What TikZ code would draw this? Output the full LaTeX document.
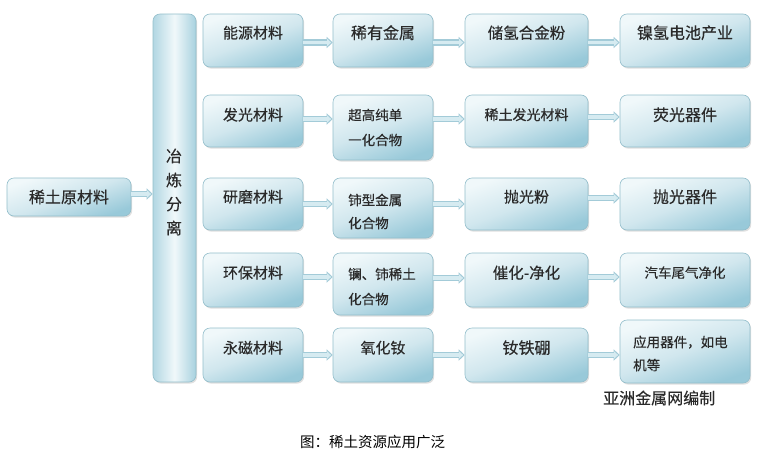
\documentclass[tikz,border=0pt]{standalone}
\usepackage{fontspec}
\newfontfamily\cjk[FakeBold=0.35]{Noto Sans CJK SC}
\newfontfamily\cjkplain{Noto Sans CJK SC}
\usetikzlibrary{arrows.meta,shadows}
\definecolor{boxtop}{HTML}{F0F8FA}
\definecolor{boxbot}{HTML}{98C9D9}
\definecolor{boxline}{HTML}{93BECB}
\definecolor{txtc}{HTML}{2A2A2A}
\definecolor{arrowc}{HTML}{D6EBF1}
\definecolor{arrowd}{HTML}{A3CBD8}
\tikzset{
  x=1pt,y=-1pt,
  box/.style={rounded corners=7pt, draw=boxline, line width=0.6pt,
    top color=boxbot, bottom color=boxtop, middle color=boxbot!45, shading angle=200,
    drop shadow={shadow xshift=1.2pt, shadow yshift=-1.6pt, opacity=0.25, fill=gray},
    inner sep=0pt},
  tallbox/.style={rounded corners=7pt, draw=boxline, line width=0.6pt,
    left color=boxbot!75, right color=boxbot!85, middle color=boxtop,
    drop shadow={shadow xshift=1.2pt, shadow yshift=-1.6pt, opacity=0.25, fill=gray},
    inner sep=0pt},
  txt/.style={font=\cjk\fontsize{15}{18}\selectfont, text=txtc, inner sep=0pt},
  stxt/.style={font=\cjk\fontsize{13.5}{25}\selectfont, text=txtc, inner sep=0pt, align=left},
  flow/.style={line width=3.5pt, draw=arrowc, -{Triangle[length=4pt,width=7pt]}, shorten >=1.6pt,
    preaction={draw=arrowd, line width=6.5pt, -{Triangle[length=6pt,width=11pt]}, shorten >=0pt}},
}
\begin{document}
\begin{tikzpicture}
\useasboundingbox[fill=white] (0,0) rectangle (759,463);
% left boxes
\node[box, minimum width=124pt, minimum height=38pt] (raw) at (69,197) {};
\node[txt, font=\cjk\fontsize{16}{18}\selectfont] (traw) at (raw.center) {稀土原材料};
\node[tallbox, minimum width=43pt, minimum height=368pt] (smelt) at (174.5,198) {};
\node[txt, align=center, font=\cjk\fontsize{16}{24}\selectfont] (tsmelt) at (174,192) {冶\\炼\\分\\离};
% column 1
\node[box, minimum width=100pt, minimum height=53pt] (a1) at (253,40.5) {};
\node[box, minimum width=100pt, minimum height=52pt] (a2) at (253,121) {};
\node[box, minimum width=100pt, minimum height=52pt] (a3) at (253,204) {};
\node[box, minimum width=100pt, minimum height=54pt] (a4) at (253,280) {};
\node[box, minimum width=100pt, minimum height=54pt] (a5) at (253,355) {};
% column 2
\node[box, minimum width=100pt, minimum height=53pt] (b1) at (383,40.5) {};
\node[box, minimum width=100pt, minimum height=65pt] (b2) at (383,127.5) {};
\node[box, minimum width=100pt, minimum height=60pt] (b3) at (383,208) {};
\node[box, minimum width=100pt, minimum height=62pt] (b4) at (383,284) {};
\node[box, minimum width=100pt, minimum height=54pt] (b5) at (383,355) {};
% column 3
\node[box, minimum width=123pt, minimum height=53pt] (c1) at (526.5,40.5) {};
\node[box, minimum width=123pt, minimum height=52pt] (c2) at (526.5,121) {};
\node[box, minimum width=123pt, minimum height=52pt] (c3) at (526.5,204) {};
\node[box, minimum width=123pt, minimum height=54pt] (c4) at (526.5,280) {};
\node[box, minimum width=123pt, minimum height=54pt] (c5) at (526.5,355) {};
% column 4
\node[box, minimum width=130pt, minimum height=53pt] (d1) at (685,40.5) {};
\node[box, minimum width=130pt, minimum height=52pt] (d2) at (685,121) {};
\node[box, minimum width=130pt, minimum height=52pt] (d3) at (685,204) {};
\node[box, minimum width=130pt, minimum height=54pt] (d4) at (685,280) {};
\node[box, minimum width=130pt, minimum height=63pt] (d5) at (685,351.5) {};
% texts column 1
\node[txt] (ta1) at ([yshift=-19pt]a1.north) {能源材料};
\node[txt] (ta2) at ([yshift=-20pt]a2.north) {发光材料};
\node[txt] (ta3) at ([yshift=-19pt]a3.north) {研磨材料};
\node[txt] (ta4) at ([yshift=-20pt]a4.north) {环保材料};
\node[txt] (ta5) at ([yshift=-20pt]a5.north) {永磁材料};
% texts column 2
\node[txt, font=\cjk\fontsize{16}{18}\selectfont] (tb1) at ([yshift=-19pt]b1.north) {稀有金属};
\node[stxt, anchor=west] (tb2) at (348,127.5) {超高纯单\\一化合物};
\node[stxt, font=\cjk\fontsize{13.5}{23}\selectfont, anchor=west] (tb3) at (348,211.5) {铈型金属\\化合物};
\node[stxt, anchor=west] (tb4) at (348,286.5) {镧、铈稀土\\化合物};
\node[txt] (tb5) at ([yshift=-20pt]b5.north) {氧化钕};
% texts column 3
\node[txt, font=\cjk\fontsize{15.5}{18}\selectfont] (tc1) at ([yshift=-19pt]c1.north) {储氢合金粉};
\node[txt, font=\cjk\fontsize{14}{18}\selectfont] (tc2) at ([yshift=-20pt]c2.north) {稀土发光材料};
\node[txt] (tc3) at ([yshift=-19pt]c3.north) {抛光粉};
\node[txt, font=\cjk\fontsize{15.5}{18}\selectfont] (tc4) at ([yshift=-20pt]c4.north) {催化-净化};
\node[txt, font=\cjk\fontsize{16}{18}\selectfont] (tc5) at ([yshift=-20pt]c5.north) {钕铁硼};
% texts column 4
\node[txt, font=\cjk\fontsize{16}{18}\selectfont] (td1) at ([yshift=-19pt]d1.north) {镍氢电池产业};
\node[txt, font=\cjk\fontsize{16}{18}\selectfont] (td2) at ([yshift=-20pt]d2.north) {荧光器件};
\node[txt, font=\cjk\fontsize{16}{18}\selectfont] (td3) at ([yshift=-19pt]d3.north) {抛光器件};
\node[txt, font=\cjk\fontsize{13.5}{18}\selectfont] (td4) at ([yshift=-20pt]d4.north) {汽车尾气净化};
\node[stxt, font=\cjk\fontsize{13.5}{23}\selectfont, anchor=west] (td5) at (633,353.5) {应用器件，如电\\机等};
% captions
\node[txt, font=\cjk\fontsize{16}{18}\selectfont, anchor=west] (src) at (603,398) {亚洲金属网编制};
\node[txt, font=\cjkplain\fontsize{14.5}{18}\selectfont, text=black, anchor=west] (cap) at (300,442) {图：稀土资源应用广泛};
% arrows
\draw[flow] ([yshift=3pt]raw.east) -- ([yshift=3pt]raw.east -| smelt.west);
\draw[flow] ([yshift=-2pt]a1.east) -- ([yshift=-2pt]a1.east -| b1.west);
\draw[flow] ([yshift=2pt]a2.east) -- ([yshift=2pt]a2.east -| b2.west);
\draw[flow] (a3.east) -- (a3.east -| b3.west);
\draw[flow] ([yshift=3pt]a4.east) -- ([yshift=3pt]a4.east -| b4.west);
\draw[flow] (a5.east) -- (a5.east -| b5.west);
\draw[flow] ([yshift=-2pt]b1.east) -- ([yshift=-2pt]b1.east -| c1.west);
\draw[flow] ([yshift=2pt]c2.west -| b2.east) -- ([yshift=2pt]c2.west);
\draw[flow] (c3.west -| b3.east) -- (c3.west);
\draw[flow] ([yshift=2pt]c4.west -| b4.east) -- ([yshift=2pt]c4.west);
\draw[flow] (b5.east) -- (b5.east -| c5.west);
\draw[flow] ([yshift=-2pt]c1.east) -- ([yshift=-2pt]c1.east -| d1.west);
\draw[flow] ([yshift=4pt]c2.east) -- ([yshift=4pt]c2.east -| d2.west);
\draw[flow] ([yshift=6pt]c3.east) -- ([yshift=6pt]c3.east -| d3.west);
\draw[flow] ([yshift=3pt]c4.east) -- ([yshift=3pt]c4.east -| d4.west);
\draw[flow] (c5.east) -- (c5.east -| d5.west);
\end{tikzpicture}
\end{document}
